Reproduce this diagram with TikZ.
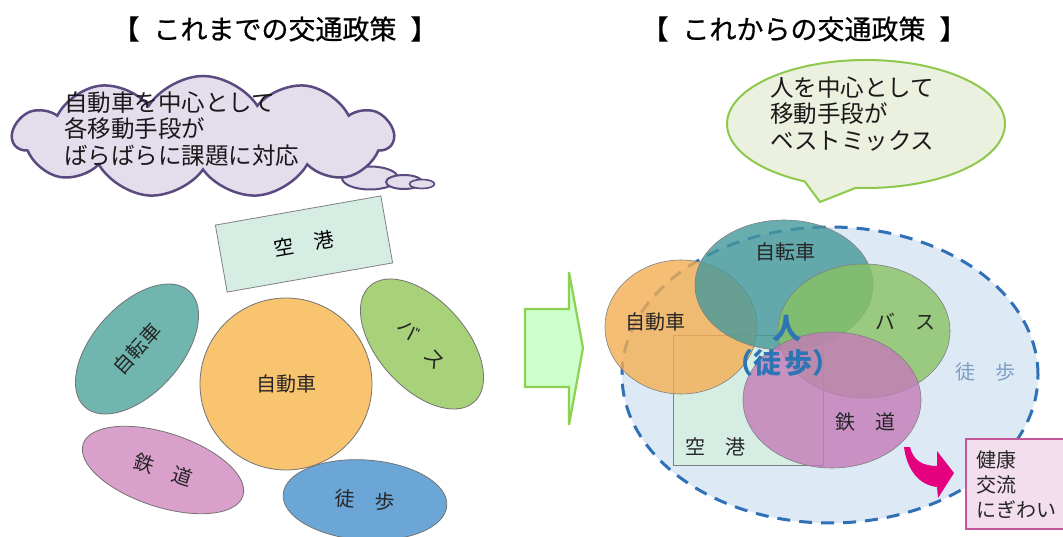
\documentclass[tikz,border=0pt]{standalone}
\usepackage{fontspec}
\setmainfont{Noto Sans CJK JP}
\newfontfamily\titlefont[FakeBold=0.6]{Noto Sans CJK JP}
\usetikzlibrary{shapes.geometric,shapes.symbols,shapes.callouts}
\definecolor{cloudfill}{HTML}{E3DDEC}
\definecolor{cloudline}{HTML}{5B4A80}
\definecolor{lteal}{HTML}{70B5AE}
\definecolor{lorange}{HTML}{F9C470}
\definecolor{lgreen}{HTML}{A8D27A}
\definecolor{lpink}{HTML}{D9A0CC}
\definecolor{lblue}{HTML}{6CA6D6}
\definecolor{airfill}{HTML}{D6EDE4}
\definecolor{rteal}{HTML}{45999A}
\definecolor{rorange}{HTML}{F4AE52}
\definecolor{rgreen}{HTML}{88C262}
\definecolor{rpink}{HTML}{C47AB8}
\definecolor{walkfill}{HTML}{DDEAF6}
\definecolor{walkline}{HTML}{2F70B6}
\definecolor{arrowfill}{HTML}{CCFFCC}
\definecolor{arrowline}{HTML}{8ED150}
\definecolor{bubblefill}{HTML}{EBF1DE}
\definecolor{bubbleline}{HTML}{8CC94C}
\definecolor{boxfill}{HTML}{F2DEEC}
\definecolor{boxline}{HTML}{C4579A}
\definecolor{magenta2}{HTML}{E4007F}
\definecolor{personblue}{HTML}{2E75B6}
\definecolor{walktext}{HTML}{7E9EC2}
\begin{document}
\begin{tikzpicture}[x=1pt,y=1pt,
  title/.style={font=\titlefont\fontsize{27}{30}\selectfont, inner sep=0},
  bigtext/.style={font=\fontsize{23.5}{26.5}\selectfont, inner sep=0, anchor=west, align=left, text=black!90},
  lefte/.style={ellipse, draw=black!55, line width=0.8pt, inner sep=0, font=\fontsize{20}{22}\selectfont, text=black!85},
  righte/.style={ellipse, draw=black!50, line width=0.6pt, inner sep=0, fill opacity=0.8},
  rlabel/.style={font=\fontsize{20}{22}\selectfont, inner sep=0, text=black!85},
  smallbub/.style={ellipse, draw=cloudline, fill=cloudfill, line width=2pt, inner sep=0},
  airbox/.style={rectangle, draw=black!50, fill=airfill, line width=0.8pt, inner sep=0}
]
\useasboundingbox[fill=white] (0,0) rectangle (1063,-537);

% titles
\node[title] (t1) at (275,-29) {【\hspace{14pt}これまでの交通政策\hspace{14pt}】};
\node[title] (t2) at (804,-29) {【\hspace{14pt}これからの交通政策\hspace{14pt}】};

% left thought cloud
\node[smallbub, minimum width=56, minimum height=23] (b1) at (370,-178) {};
\node[smallbub, minimum width=36, minimum height=14] (b2) at (404,-182) {};
\node[smallbub, minimum width=25, minimum height=9, line width=1.6pt] (b3) at (422,-184) {};
\node[cloud, cloud puffs=11, cloud puff arc=115, aspect=3.1, draw=cloudline, fill=cloudfill,
      line width=2.5pt, minimum width=380, minimum height=122, inner sep=0] (cloud) at (203,-137) {};
\node[bigtext] (ctext) at (64,-129) {自動車を中心として\\各移動手段が\\ばらばらに課題に対応};

% left: airport and modes
\node[airbox, minimum width=168, minimum height=68, rotate=10, font=\fontsize{20}{22}\selectfont] (air1) at (304,-244) {空　港};
\node[lefte, fill=lteal, minimum width=156, minimum height=88, rotate=48] (bike1) at (137,-349) {自転車};
\node[lefte, fill=lorange, circle, minimum size=172] (car1) at (286,-384) {自動車};
\node[lefte, fill=lgreen, minimum width=156, minimum height=88, rotate=-48] (bus1) at (422,-344) {バ　ス};
\node[lefte, fill=lpink, minimum width=168, minimum height=74, rotate=-18] (rail1) at (163,-470) {鉄　道};
\node[lefte, fill=lblue, minimum width=164, minimum height=80, rotate=-4] (walk1) at (365,-500) {徒　歩};

% big arrow
\draw[fill=arrowfill, draw=arrowline, line width=2.2pt, line join=miter]
  (525,-309) -- (569,-309) -- (569,-272) -- (583,-348) -- (569,-425) -- (569,-387) -- (525,-387) -- cycle;

% right speech bubble
\node[ellipse callout, callout absolute pointer={(820,-202)}, callout pointer arc=22,
      draw=bubbleline, fill=bubblefill, line width=2pt, minimum width=278, minimum height=128, inner sep=0] (bubble) at (866,-124) {};
\node[bigtext] (btext) at (770,-114) {人を中心として\\移動手段が\\ベストミックス};

% right: walking area
\node[ellipse, fill=walkfill, draw=walkline, line width=3pt, dash pattern=on 13pt off 9pt,
      minimum width=416, minimum height=296, inner sep=0] (walk2) at (830,-375) {};
\node[airbox, minimum width=150, minimum height=130] (air2) at (748,-400) {};
\node[righte, fill=rorange, minimum width=152, minimum height=134] (car2) at (681,-327) {};
\node[righte, fill=rteal, minimum width=178, minimum height=130] (bike2) at (784,-285) {};
\node[righte, fill=rgreen, minimum width=172, minimum height=134] (bus2) at (864,-331) {};
\node[righte, fill=rpink, minimum width=178, minimum height=136] (rail2) at (832,-400) {};

\node[rlabel] (car2l) at (655,-322) {自動車};
\node[rlabel] (bike2l) at (785,-252) {自転車};
\node[rlabel] (bus2l) at (905,-322) {バ　ス};
\node[rlabel] (rail2l) at (865,-422) {鉄　道};
\node[rlabel] (air2l) at (715,-447) {空　港};
\node[rlabel, text=walktext] (walk2l) at (985,-372) {徒　歩};
\node[font=\fontsize{29}{30}\selectfont\bfseries, inner sep=0, text=personblue] (person) at (787,-329) {人};
\node[font=\fontsize{28}{30}\selectfont\bfseries, inner sep=0, text=personblue] (person2) at (783,-363) {（徒\hspace{4pt}歩）};

% result box
\node[rectangle, anchor=north west, draw=boxline, fill=boxfill, line width=1.8pt,
      minimum width=115, minimum height=90, inner sep=0] (box) at (965,-438) {};
\node[font=\fontsize{20}{25}\selectfont, inner sep=0, anchor=west, align=left, text=black!85] (boxtext) at (976,-485) {健康\\交流\\にぎわい};

% magenta curved arrow
\fill[magenta2] (904,-447) .. controls (907,-470) and (919,-485) .. (937,-487) -- (938,-498)
  -- (954,-473) -- (937,-451) -- (937,-466) .. controls (922,-466) and (913,-460) .. (910,-447) -- cycle;
\end{tikzpicture}
\end{document}
